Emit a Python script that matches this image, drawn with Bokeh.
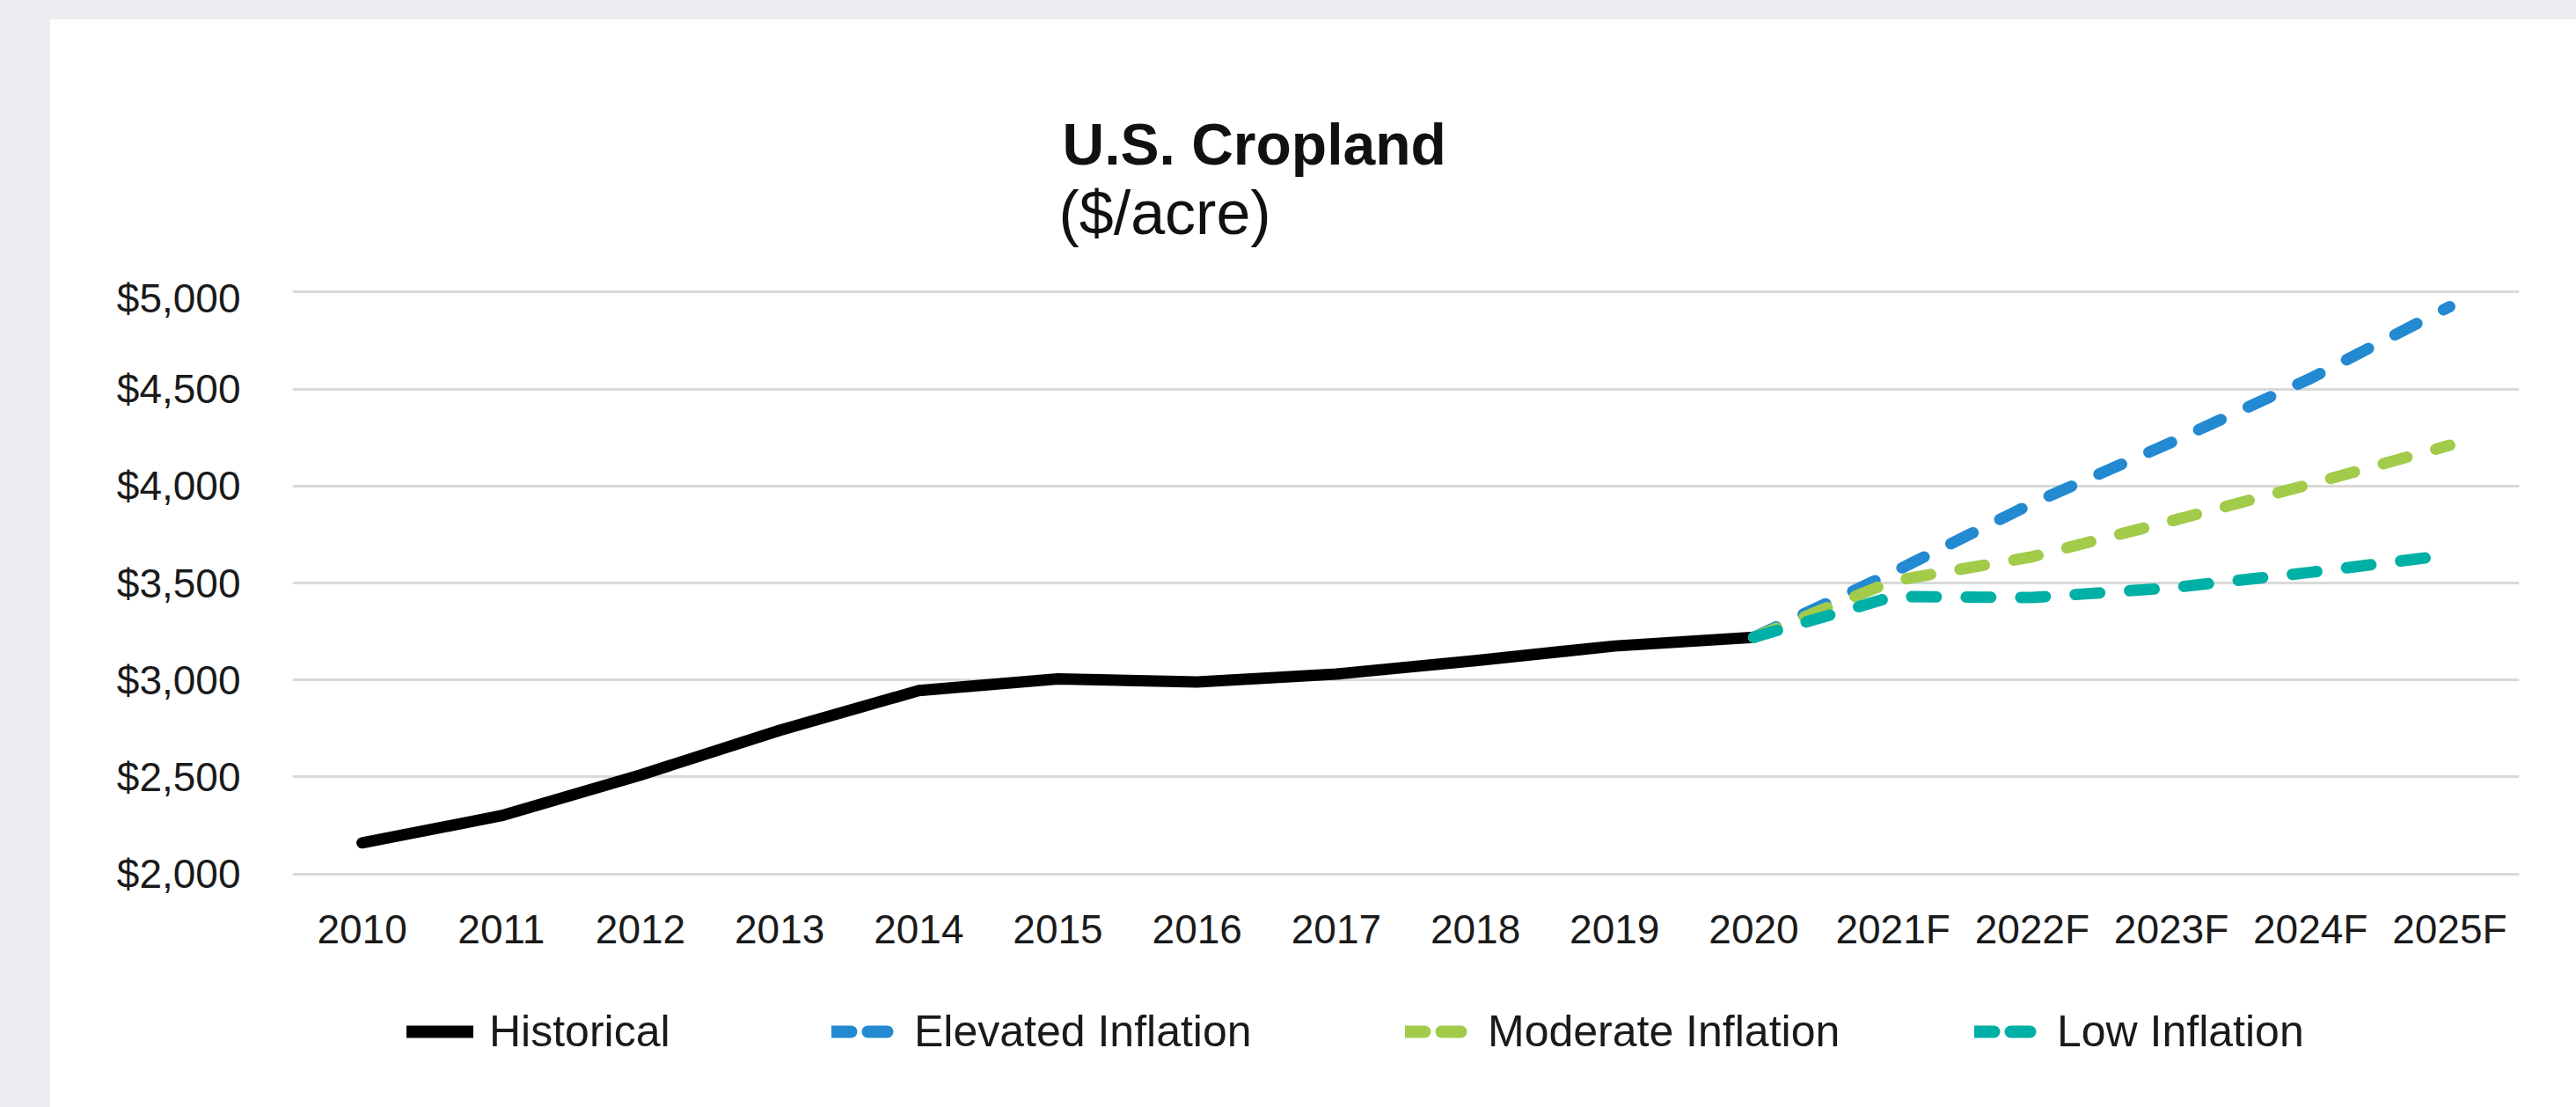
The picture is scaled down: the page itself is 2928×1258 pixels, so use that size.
from bokeh.plotting import figure
from bokeh.models import (FactorRange, Range1d, FixedTicker, NumeralTickFormatter,
                          Label, Legend, LegendItem)
from bokeh.layouts import column
from bokeh.embed import file_html
from bokeh.resources import INLINE

# ---------------- data ----------------
years = ["2010", "2011", "2012", "2013", "2014", "2015", "2016", "2017", "2018",
         "2019", "2020", "2021F", "2022F", "2023F", "2024F", "2025F"]
hist_years = years[:11]
hist_values = [2160, 2300, 2510, 2740, 2945, 3005, 2990, 3030, 3100, 3175, 3220]
fc_years = years[10:]
elevated = [3220, 3555, 3910, 4225, 4555, 4925]
moderate = [3220, 3510, 3635, 3820, 4010, 4210]
low = [3220, 3430, 3425, 3475, 3555, 3645]
y_ticks = [2000, 2500, 3000, 3500, 4000, 4500, 5000]
series_names = ["Historical", "Elevated Inflation", "Moderate Inflation", "Low Inflation"]
title_text = "U.S. Cropland"
subtitle_text = "($/acre)"

# ---------------- style ----------------
FONT = "Liberation Sans"
TXT = "#1a1a1a"
BLACK = "#000000"
BLUE = "#2389D1"
GREEN = "#A2CB4A"
TEAL = "#00AFA6"
GRID = "#D9D9D9"
BG = "#EDEDF1"
W = 2871

# ---------------- title strip ----------------
t = figure(width=W, height=290, x_range=Range1d(0, 1), y_range=Range1d(0, 1),
           x_axis_location=None, y_axis_location=None, min_border=0,
           output_backend="svg", toolbar_location=None)
t.outline_line_color = None
t.background_fill_color = "white"
t.border_fill_color = "white"
t.grid.visible = False
t.add_layout(Label(x=875, y=149, x_units="screen", y_units="screen", text=title_text,
                   text_font=FONT, text_font_size="66px", text_font_style="bold",
                   text_color="#111111", text_baseline="alphabetic", text_align="left"))
t.add_layout(Label(x=871, y=71, x_units="screen", y_units="screen", text=subtitle_text,
                   text_font=FONT, text_font_size="70px", text_color="#111111",
                   text_baseline="alphabetic", text_align="left"))

# ---------------- main chart ----------------
p = figure(x_range=FactorRange(*years), y_range=Range1d(1980, 5020),
           width=W, height=808, output_backend="svg", toolbar_location=None,
           min_border_left=275, min_border_right=65, min_border_top=15,
           min_border_bottom=123)
p.outline_line_color = None
p.background_fill_color = "white"
p.border_fill_color = "white"

p.xgrid.visible = False
p.ygrid.ticker = FixedTicker(ticks=y_ticks)
p.ygrid.grid_line_color = GRID
p.ygrid.grid_line_width = 3

p.yaxis.ticker = FixedTicker(ticks=y_ticks)
p.yaxis.formatter = NumeralTickFormatter(format="$0,0")
for ax in (p.xaxis, p.yaxis):
    ax.axis_line_color = None
    ax.major_tick_line_color = None
    ax.minor_tick_line_color = None
    ax.major_tick_out = 0
    ax.major_tick_in = 0
    ax.major_label_text_font = FONT
    ax.major_label_text_font_size = "46px"
    ax.major_label_text_color = TXT
p.yaxis.major_label_standoff = 59
p.xaxis.major_label_standoff = 32

DASH = "28 34"
LW = 13
p.line(hist_years, hist_values, line_color=BLACK, line_width=LW,
       line_cap="round", line_join="round")
p.line(fc_years, elevated, line_color=BLUE, line_width=LW, line_dash=DASH,
       line_cap="round", line_join="round")
p.line(fc_years, moderate, line_color=GREEN, line_width=LW, line_dash=DASH,
       line_cap="round", line_join="round")
p.line(fc_years, low, line_color=TEAL, line_width=LW, line_dash=DASH,
       line_cap="round", line_join="round")

# ---------------- legend strip ----------------
lg = figure(width=W, height=138, x_range=Range1d(0, 1), y_range=Range1d(0, 1),
            x_axis_location=None, y_axis_location=None, min_border=0,
            output_backend="svg", toolbar_location=None)
lg.outline_line_color = None
lg.background_fill_color = "white"
lg.border_fill_color = "white"
lg.grid.visible = False
LDASH = "22 19"
# swatch renderers: the series themselves, lying outside this strip's view
sw = [
    lg.line(list(range(len(hist_values))), hist_values, line_color=BLACK,
            line_width=14, line_cap="round"),
    lg.line(list(range(len(elevated))), elevated, line_color=BLUE, line_width=14,
            line_dash=LDASH, line_cap="round"),
    lg.line(list(range(len(moderate))), moderate, line_color=GREEN, line_width=14,
            line_dash=LDASH, line_cap="round"),
    lg.line(list(range(len(low))), low, line_color=TEAL, line_width=14,
            line_dash=LDASH, line_cap="round"),
]
leg_x = [130, 613, 1265, 1912]
for name, r, lx in zip(series_names, sw, leg_x):
    leg = Legend(items=[LegendItem(label=name, renderers=[r])], location=(lx, 57),
                 orientation="horizontal", padding=0, margin=0, spacing=0,
                 border_line_color=None, background_fill_alpha=0,
                 glyph_width=76, glyph_height=50, label_height=50,
                 label_standoff=18, label_text_font=FONT,
                 label_text_font_size="50px", label_text_color=TXT)
    lg.add_layout(leg)

card = column(t, p, lg, spacing=0, styles={"background-color": "white"})
card.margin = (22, 0, 0, 57)
root = column(card, styles={"background-color": BG})
open("out.html", "w").write(file_html(root, INLINE))
